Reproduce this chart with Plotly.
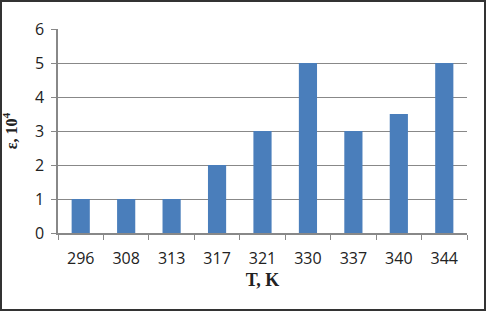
import plotly.graph_objects as go

temperatures = ["296", "308", "313", "317", "321", "330", "337", "340", "344"]
epsilon = [1, 1, 1, 2, 3, 5, 3, 3.5, 5]
y_ticks = [0, 1, 2, 3, 4, 5, 6]

W, H = 486, 311
ML, MR, MT, MB = 58, 19, 29, 78
PW, PH = W - ML - MR, H - MT - MB

fig = go.Figure(go.Bar(
    x=temperatures, y=epsilon,
    marker=dict(color="#4A7EBB", line=dict(width=0)),
    width=0.4,
))

fig.update_layout(
    width=W, height=H,
    margin=dict(l=ML, r=MR, t=MT, b=MB, autoexpand=False),
    paper_bgcolor="white", plot_bgcolor="white",
    showlegend=False,
    font=dict(family="Open Sans, sans-serif", size=16, color="#222"),
    xaxis=dict(
        type="category", automargin=False,
        showline=True, linecolor="#888", linewidth=1.5,
        ticks="outside", tickson="boundaries", ticklen=5, tickcolor="#888",
        ticklabelstandoff=10,
        tickfont=dict(size=16, color="#222"),
        title=dict(text="<b>T, K</b>", font=dict(family="Liberation Serif, serif", size=18, color="#222"), standoff=5),
        showgrid=False,
    ),
    yaxis=dict(
        range=[0, 6], tickvals=y_ticks, automargin=False,
        showline=True, linecolor="#888", linewidth=1.5,
        ticks="outside", ticklen=5, tickcolor="#888",
        ticklabelstandoff=4,
        showgrid=True, gridcolor="#888", gridwidth=1.2,
        zeroline=False,
        tickfont=dict(size=16, color="#222"),
        title=dict(text="<b>ε, 10<sup>4</sup></b>", font=dict(family="Liberation Serif, serif", size=16, color="#222"), standoff=14),
    ),
)

fig.add_shape(
    type="rect", xref="paper", yref="paper",
    x0=(1 - ML) / PW, x1=(W - ML - 1) / PW,
    y0=-(MB - 1) / PH, y1=(PH + MT - 1) / PH,
    line=dict(color="#333", width=2), fillcolor="rgba(0,0,0,0)", layer="above",
)

fig.write_html("out.html", config={"displayModeBar": False},
               post_script="document.body.style.margin='0';")
